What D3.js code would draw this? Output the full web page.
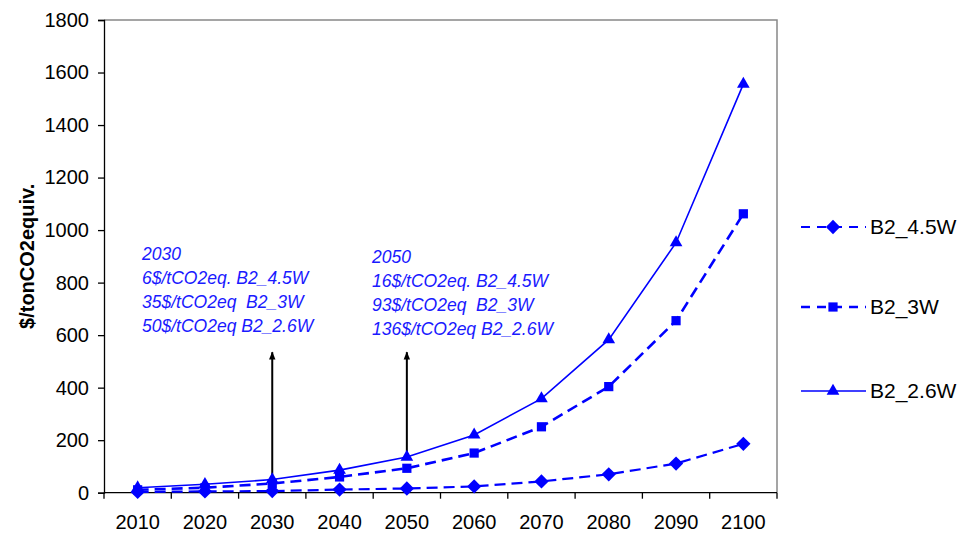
<!DOCTYPE html>
<html>
<head>
<meta charset="utf-8">
<script src="https://cdn.jsdelivr.net/npm/d3@7"></script>
<style>
  body { margin: 0; background: #fff; }
  text { font-family: Arial, "Liberation Sans", sans-serif; }
</style>
</head>
<body>
<div id="chart"></div>
<script>
// carbon price paths, $/tCO2eq per decade
const years = ["2010","2020","2030","2040","2050","2060","2070","2080","2090","2100"];
const b2_45 = [3, 5, 6, 12, 16, 24, 43, 70, 111, 186];
const b2_3  = [11, 19, 35, 60, 93, 151, 251, 404, 655, 1062];
const b2_26 = [19, 32, 50, 86, 136, 220, 358, 583, 952, 1556];
const seriesNames = ["B2_4.5W", "B2_3W", "B2_2.6W"];
const yTicks = [0, 200, 400, 600, 800, 1000, 1200, 1400, 1600, 1800];
const notes2030 = ["2030", "6$/tCO2eq. B2_4.5W", "35$/tCO2eq  B2_3W", "50$/tCO2eq B2_2.6W"];
const notes2050 = ["2050", "16$/tCO2eq. B2_4.5W", "93$/tCO2eq  B2_3W", "136$/tCO2eq B2_2.6W"];
const arrowTop = 535; // value where the arrows end

const width = 959, height = 533;
const margin = {top: 20, right: 182, bottom: 40.3, left: 104};
const blue = "#0000ff";

const svg = d3.select("#chart").append("svg")
    .attr("width", width).attr("height", height);

const x = d3.scaleBand()
    .domain(years)
    .range([margin.left, width - margin.right])
    .padding(0);
const cx = d => x(d) + x.bandwidth() / 2;

const y = d3.scaleLinear()
    .domain([0, 1800])
    .range([height - margin.bottom, margin.top]);

// plot frame (grey top/right)
svg.append("path")
    .attr("d", `M${x.range()[0]},${y(1800)}H${x.range()[1]}V${y(0)}`)
    .attr("fill", "none").attr("stroke", "#888").attr("stroke-width", 1.5);

// y axis
const yAxis = g => g
    .attr("transform", `translate(${margin.left},0)`)
    .call(d3.axisLeft(y).tickValues(yTicks).tickFormat(d3.format("d")).tickSize(6).tickPadding(9))
    .call(g => g.selectAll("text").attr("font-size", 20).attr("fill", "#000")
        .attr("font-family", "Arial, 'Liberation Sans', sans-serif"))
    .call(g => g.selectAll("line, .domain").attr("stroke", "#000").attr("stroke-width", 1.3));
svg.append("g").call(yAxis);

// x axis: ticks on category boundaries, labels centred
const xg = svg.append("g").attr("transform", `translate(0,${y(0)})`);
xg.append("line")
    .attr("x1", x.range()[0]).attr("x2", x.range()[1])
    .attr("stroke", "#000").attr("stroke-width", 1.3);
const bounds = years.map(d => x(d)).concat([x.range()[1]]);
xg.selectAll(".tk").data(bounds).join("line")
    .attr("x1", d => d).attr("x2", d => d)
    .attr("y1", 0).attr("y2", 6)
    .attr("stroke", "#000").attr("stroke-width", 1.3);
xg.selectAll(".lbl").data(years).join("text")
    .attr("x", d => cx(d)).attr("y", 36)
    .attr("text-anchor", "middle")
    .attr("font-size", 20)
    .text(d => d);

// y label
svg.append("text")
    .attr("transform", `translate(34,${(y(0) + y(1800)) / 2}) rotate(-90)`)
    .attr("text-anchor", "middle")
    .attr("font-size", 20).attr("font-weight", "bold")
    .text("$/tonCO2equiv.");

// arrows
svg.append("defs").append("marker")
    .attr("id", "ah").attr("viewBox", "0 0 10 10")
    .attr("refX", 9).attr("refY", 5)
    .attr("markerWidth", 9).attr("markerHeight", 8)
    .attr("markerUnits", "userSpaceOnUse")
    .attr("orient", "auto")
    .append("path").attr("d", "M0,1L10,5L0,9Z").attr("fill", "#000");

[["2030", b2_26[2]], ["2050", b2_26[4]]].forEach(([yr, v]) => {
    svg.append("line")
        .attr("x1", cx(yr)).attr("x2", cx(yr))
        .attr("y1", y(v)).attr("y2", y(arrowTop))
        .attr("stroke", "#000").attr("stroke-width", 2)
        .attr("marker-end", "url(#ah)");
});

// series
const line = d3.line().x((d, i) => cx(years[i])).y(d => y(d));
const series = [
    {name: seriesNames[0], data: b2_45, dash: "11,6", sw: 2.2, sym: d3.symbolDiamond2, size: 130},
    {name: seriesNames[1], data: b2_3,  dash: "11,6", sw: 2.6, sym: d3.symbolSquare,  size: 85},
    {name: seriesNames[2], data: b2_26, dash: null,   sw: 1.6, sym: d3.symbolTriangle, size: 70}
];

series.forEach(s => {
    svg.append("path")
        .attr("d", line(s.data))
        .attr("fill", "none").attr("stroke", blue)
        .attr("stroke-width", s.sw)
        .attr("stroke-dasharray", s.dash);
    svg.selectAll(null).data(s.data).join("path")
        .attr("transform", (d, i) => `translate(${cx(years[i])},${y(d)})`)
        .attr("d", d3.symbol(s.sym, s.size))
        .attr("fill", blue);
});

// annotations
const noteBlock = (lines, x0, y0) => {
    svg.append("text")
        .attr("font-size", 17.5).attr("font-style", "italic").attr("fill", "#1a1aff")
        .style("white-space", "pre")
        .selectAll("tspan").data(lines).join("tspan")
        .attr("x", x0).attr("y", (d, i) => y0 + i * 24)
        .text(d => d);
};
noteBlock(notes2030, 142, 260);
noteBlock(notes2050, 372, 263);

// legend
const legY = [227, 307, 391];
const lg = svg.append("g");
series.forEach((s, i) => {
    const g = lg.append("g").attr("transform", `translate(0,${legY[i]})`);
    g.append("line")
        .attr("x1", 801).attr("x2", 866)
        .attr("stroke", blue).attr("stroke-width", s.sw)
        .attr("stroke-dasharray", s.dash ? "9,7" : null);
    g.append("path")
        .attr("transform", "translate(833,0)")
        .attr("d", d3.symbol(s.sym, s.size))
        .attr("fill", blue);
    g.append("text")
        .attr("x", 870).attr("y", 7)
        .attr("font-size", 21)
        .text(s.name);
});
</script>
</body>
</html>
